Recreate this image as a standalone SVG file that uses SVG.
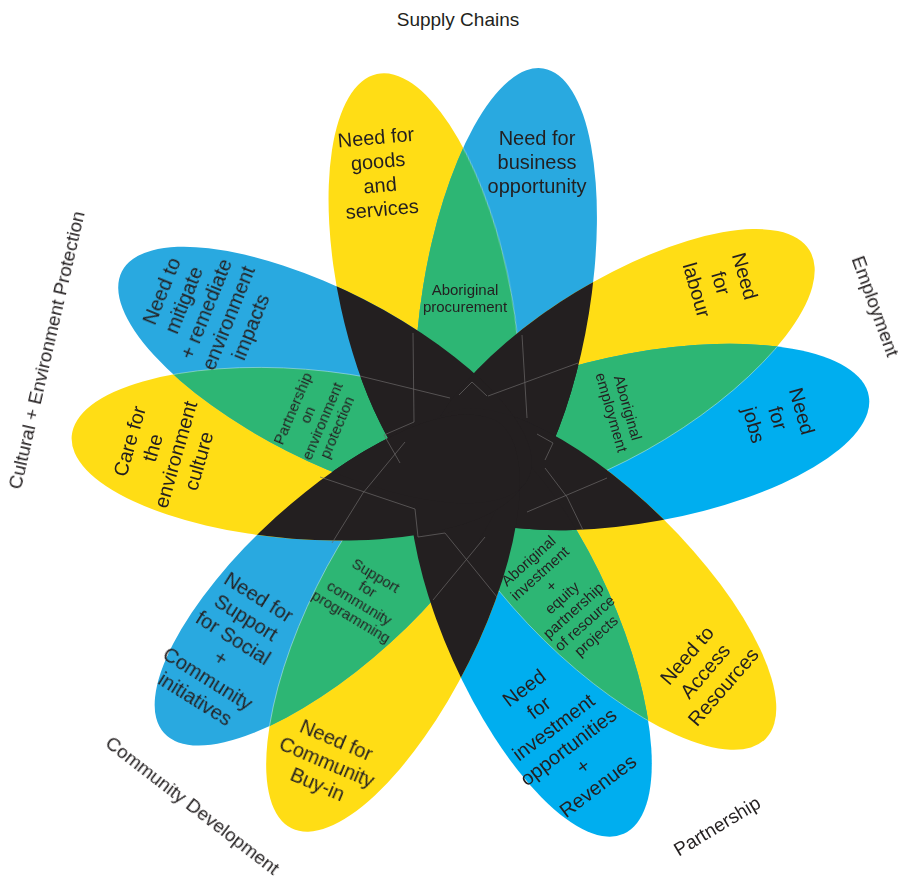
<svg xmlns="http://www.w3.org/2000/svg" width="904" height="878" viewBox="0 0 904 878">
  <style>
    .yel { fill: #ffdd15; }
    .blu { fill: #29a9e0; }
    .cya { fill: #00aeef; }
    .grn { fill: #2db674; }
    .blk { fill: #231f20; }
    .edge { fill: none; stroke: #ffffff; stroke-width: 0.8; opacity: 0.45; }
    .seam { fill: none; stroke: #6c6869; stroke-width: 0.7; stroke-linejoin: round; }
    text { font-family: "Liberation Sans", Arial, sans-serif; fill: #231f20; text-anchor: middle; }
    .big { font-size: 20px; }
    .small { font-size: 15px; }
    .cat { font-size: 19px; }
  </style>
  <defs>
    <!-- petal ellipses: rx along the petal axis, pointing outwards -->
    <ellipse id="pTY" rx="221" ry="85" transform="translate(424 290) rotate(-102.3)"/>
    <ellipse id="pTB" rx="234.6" ry="84" transform="translate(506 300) rotate(-80.85)"/>
    <ellipse id="pEY" rx="222" ry="86" transform="translate(620 366) rotate(-31.4)"/>
    <ellipse id="pEB" rx="228" ry="85" transform="translate(644.5 437) rotate(-10.39)"/>
    <ellipse id="pPY" rx="228" ry="85" transform="translate(603 579) rotate(44.46)"/>
    <ellipse id="pPB" rx="228" ry="85" transform="translate(530.5 625.7) rotate(65.86)"/>
    <ellipse id="pCY" rx="228" ry="85" transform="translate(393 624) rotate(116.42)"/>
    <ellipse id="pCB" rx="228" ry="85" transform="translate(333 580) rotate(137.82)"/>
    <ellipse id="pLY" rx="228" ry="85" transform="translate(299 454) rotate(184.5)"/>
    <ellipse id="pLB" rx="228" ry="85" transform="translate(325 375) rotate(207)"/>

    <!-- one petal of each pair, used to cut the green lens -->
    <clipPath id="cTB"><use href="#pTB"/></clipPath>
    <clipPath id="cEB"><use href="#pEB"/></clipPath>
    <clipPath id="cPB"><use href="#pPB"/></clipPath>
    <clipPath id="cCB"><use href="#pCB"/></clipPath>
    <clipPath id="cLB"><use href="#pLB"/></clipPath>

    <!-- both petals of each pair -->
    <clipPath id="gT"><use href="#pTY"/><use href="#pTB"/></clipPath>
    <clipPath id="gE"><use href="#pEY"/><use href="#pEB"/></clipPath>
    <clipPath id="gP"><use href="#pPY"/><use href="#pPB"/></clipPath>
    <clipPath id="gC"><use href="#pCY"/><use href="#pCB"/></clipPath>
  </defs>

  <!-- petals -->
  <g id="petals">
    <g id="need-goods"><use href="#pTY" class="yel"/></g>
    <g id="need-business"><use href="#pTB" class="blu"/></g>
    <g id="need-labour"><use href="#pEY" class="yel"/></g>
    <g id="need-jobs"><use href="#pEB" class="cya"/></g>
    <g id="need-access"><use href="#pPY" class="yel"/></g>
    <g id="need-investment"><use href="#pPB" class="cya"/></g>
    <g id="need-buyin"><use href="#pCY" class="yel"/></g>
    <g id="need-social"><use href="#pCB" class="blu"/></g>
    <g id="care-environment"><use href="#pLY" class="yel"/></g>
    <g id="need-mitigate"><use href="#pLB" class="blu"/></g>
  </g>

  <!-- green lens of each pair -->
  <g id="lenses" class="grn">
    <g id="aboriginal-procurement" clip-path="url(#cTB)"><use href="#pTY"/></g>
    <g id="aboriginal-employment" clip-path="url(#cEB)"><use href="#pEY"/></g>
    <g id="aboriginal-investment" clip-path="url(#cPB)"><use href="#pPY"/></g>
    <g id="support-community" clip-path="url(#cCB)"><use href="#pCY"/></g>
    <g id="partnership-environment" clip-path="url(#cLB)"><use href="#pLY"/></g>
  </g>

  <!-- light rim where each lens meets its blue petal -->
  <g id="lens-rims" class="edge">
    <g clip-path="url(#cTB)"><use href="#pTY"/></g>
    <g clip-path="url(#cEB)"><use href="#pEY"/></g>
    <g clip-path="url(#cPB)"><use href="#pPY"/></g>
    <g clip-path="url(#cCB)"><use href="#pCY"/></g>
    <g clip-path="url(#cLB)"><use href="#pLY"/></g>
  </g>

  <!-- dark star: overlaps between different pairs -->
  <g id="core" class="blk">
    <g clip-path="url(#gT)"><use href="#pEY"/><use href="#pEB"/><use href="#pPY"/><use href="#pPB"/><use href="#pCY"/><use href="#pCB"/><use href="#pLY"/><use href="#pLB"/></g>
    <g clip-path="url(#gE)"><use href="#pPY"/><use href="#pPB"/><use href="#pCY"/><use href="#pCB"/><use href="#pLY"/><use href="#pLB"/></g>
    <g clip-path="url(#gP)"><use href="#pCY"/><use href="#pCB"/><use href="#pLY"/><use href="#pLB"/></g>
    <g clip-path="url(#gC)"><use href="#pLY"/><use href="#pLB"/></g>
  </g>

  <!-- faint petal edges running into the dark star -->
  <g id="core-seams" class="seam">
    <path d="M413,333 L414,422 L384,435 L400,463"/>
    <path d="M522,335 L527,418"/>
    <path d="M360,376 L450,398"/>
    <path d="M459,395 L472,382 L487,396"/>
    <path d="M578,363 L488,396"/>
    <path d="M537,434 L553,443 L545,460"/>
    <path d="M405,442 L363,493 L332,543"/>
    <path d="M320,477 L415,509 L418,537 L445,533 L497,597"/>
    <path d="M485,537 L433,600"/>
    <path d="M607,478 L527,512"/>
    <path d="M545,468 L567,497 L583,530"/>
  </g>

  <!-- petal texts -->
  <g id="labels">
    <g id="t-goods" transform="translate(379 173) rotate(-5)">
      <text class="big"><tspan x="0" y="-29">Need for</tspan><tspan x="0" y="-5">goods</tspan><tspan x="0" y="19">and</tspan><tspan x="0" y="43">services</tspan></text>
    </g>
    <g id="t-business" transform="translate(537 162)">
      <text class="big"><tspan x="0" y="-17">Need for</tspan><tspan x="0" y="7">business</tspan><tspan x="0" y="31">opportunity</tspan></text>
    </g>
    <g id="t-procurement" transform="translate(465 298)">
      <text class="small"><tspan x="0" y="-3">Aboriginal</tspan><tspan x="0" y="14">procurement</tspan></text>
    </g>
    <g id="t-labour" transform="translate(721 283) rotate(74)">
      <text class="big"><tspan x="0" y="-18">Need</tspan><tspan x="0" y="7">for</tspan><tspan x="0" y="32">labour</tspan></text>
    </g>
    <g id="t-jobs" transform="translate(778 418) rotate(74)">
      <text class="big"><tspan x="0" y="-18">Need</tspan><tspan x="0" y="7">for</tspan><tspan x="0" y="32">jobs</tspan></text>
    </g>
    <g id="t-employment" transform="translate(620 410) rotate(74)">
      <text class="small"><tspan x="0" y="-3">Aboriginal</tspan><tspan x="0" y="14">employment</tspan></text>
    </g>
    <g id="t-access" transform="translate(705 671) rotate(-49)">
      <text class="big"><tspan x="0" y="-17">Need to</tspan><tspan x="0" y="7">Access</tspan><tspan x="0" y="31">Resources</tspan></text>
    </g>
    <g id="t-investment" transform="translate(561 737) rotate(-37)">
      <text class="big"><tspan x="0" y="-54.5">Need</tspan><tspan x="0" y="-30">for</tspan><tspan x="0" y="-5.5">investment</tspan><tspan x="0" y="19">opportunities</tspan><tspan x="0" y="43.5">+</tspan><tspan x="0" y="68">Revenues</tspan></text>
    </g>
    <g id="t-equity" transform="translate(562 598) rotate(-42)">
      <text class="small"><tspan x="0" y="-45">Aboriginal</tspan><tspan x="0" y="-28">investment</tspan><tspan x="0" y="-11">+</tspan><tspan x="0" y="5">equity</tspan><tspan x="0" y="22">partnership</tspan><tspan x="0" y="39">of resource</tspan><tspan x="0" y="56">projects</tspan></text>
    </g>
    <g id="t-buyin" transform="translate(327 762) rotate(23)">
      <text class="big"><tspan x="0" y="-17">Need for</tspan><tspan x="0" y="7">Community</tspan><tspan x="0" y="31">Buy-in</tspan></text>
    </g>
    <g id="t-social" transform="translate(227 648) rotate(32)">
      <text class="big"><tspan x="0" y="-53">Need for</tspan><tspan x="0" y="-29">Support</tspan><tspan x="0" y="-5">for Social</tspan><tspan x="0" y="19">+</tspan><tspan x="0" y="43">Community</tspan><tspan x="0" y="67">initiatives</tspan></text>
    </g>
    <g id="t-programming" transform="translate(363 597) rotate(31)">
      <text class="small"><tspan x="0" y="-20">Support</tspan><tspan x="0" y="-4">for</tspan><tspan x="0" y="12">community</tspan><tspan x="0" y="28">programming</tspan></text>
    </g>
    <g id="t-care" transform="translate(164 451) rotate(-74)">
      <text class="big"><tspan x="0" y="-29">Care for</tspan><tspan x="0" y="-5">the</tspan><tspan x="0" y="19">environment</tspan><tspan x="0" y="43">culture</tspan></text>
    </g>
    <g id="t-mitigate" transform="translate(206 309) rotate(-68)">
      <text class="big"><tspan x="0" y="-41">Need to</tspan><tspan x="0" y="-17">mitigate</tspan><tspan x="0" y="7">+ remediate</tspan><tspan x="0" y="31">environment</tspan><tspan x="0" y="55">impacts</tspan></text>
    </g>
    <g id="t-partnership-env" transform="translate(315 418) rotate(-67)">
      <text class="small"><tspan x="0" y="-19">Partnership</tspan><tspan x="0" y="-3">on</tspan><tspan x="0" y="13">environment</tspan><tspan x="0" y="29">protection</tspan></text>
    </g>
  </g>

  <!-- category captions -->
  <g id="categories">
    <g id="cat-supply"><text class="cat" x="458" y="26">Supply Chains</text></g>
    <g id="cat-employment" transform="translate(876 306) rotate(70)"><text class="cat" x="0" y="6.6">Employment</text></g>
    <g id="cat-partnership" transform="translate(717 826) rotate(-31)"><text class="cat" x="0" y="6.6">Partnership</text></g>
    <g id="cat-community" transform="translate(193 805) rotate(37.6)"><text class="cat" x="0" y="6.6">Community Development</text></g>
    <g id="cat-cultural" transform="translate(46 350) rotate(-77)"><text class="cat" x="0" y="6.6">Cultural + Environment Protection</text></g>
  </g>
</svg>
